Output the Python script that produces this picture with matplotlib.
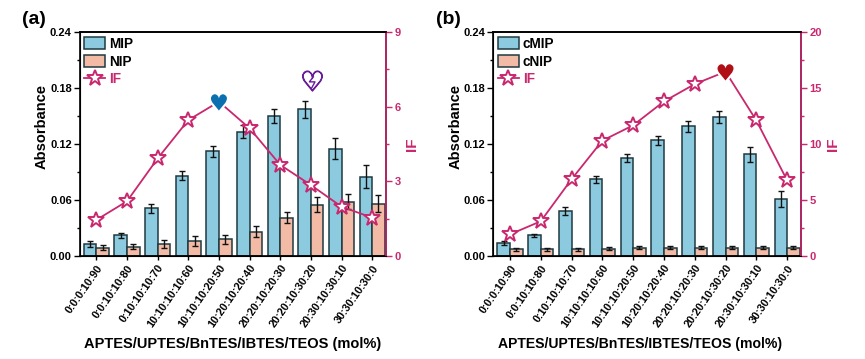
import numpy as np
import matplotlib
matplotlib.use('Agg')
import matplotlib.pyplot as plt
import matplotlib.patheffects as pe
from matplotlib.path import Path

plt.rcParams['font.family'] = ['Liberation Sans', 'DejaVu Sans']
plt.rcParams['font.weight'] = 'bold'
plt.rcParams['axes.labelweight'] = 'bold'

ratios = ['0:0:0:10:90', '0:0:10:10:80', '0:10:10:10:70', '10:10:10:10:60', '10:10:10:20:50',
          '10:20:10:20:40', '20:20:10:20:30', '20:20:10:30:20', '20:30:10:30:10', '30:30:10:30:0']

mip = [0.013, 0.022, 0.051, 0.086, 0.112, 0.133, 0.150, 0.157, 0.115, 0.085]
mip_err = [0.003, 0.003, 0.005, 0.005, 0.006, 0.007, 0.008, 0.009, 0.011, 0.012]
nip = [0.009, 0.010, 0.013, 0.016, 0.018, 0.026, 0.041, 0.055, 0.058, 0.056]
nip_err = [0.003, 0.003, 0.004, 0.005, 0.005, 0.006, 0.006, 0.008, 0.008, 0.009]
if_a = [1.45, 2.2, 3.92, 5.46, 6.2, 5.13, 3.66, 2.85, 1.98, 1.54]

cmip = [0.014, 0.022, 0.048, 0.082, 0.105, 0.124, 0.139, 0.149, 0.109, 0.061]
cmip_err = [0.002, 0.002, 0.004, 0.004, 0.004, 0.005, 0.006, 0.006, 0.008, 0.009]
cnip = [0.007, 0.007, 0.007, 0.008, 0.009, 0.009, 0.009, 0.009, 0.009, 0.009]
cnip_err = [0.002, 0.002, 0.002, 0.002, 0.002, 0.002, 0.002, 0.002, 0.002, 0.002]
if_b = [1.93, 3.1, 6.85, 10.3, 11.67, 13.8, 15.35, 16.46, 12.1, 6.75]

blue = '#8ccbdf'
salmon = '#f3bba5'
edge = '#1f3a40'
pink = '#c9286f'
W, H = 865, 359


def panel(box, a, a_err, b, b_err, iff, names, if_max, if_ticks, peak, tag, tag_x, xlab_x, xlab_size):
    left, right, top, bottom = box
    ax = fig.add_axes([left / W, 1 - bottom / H, (right - left) / W, (bottom - top) / H])
    x = np.arange(len(ratios))
    w = 0.41
    kw = dict(edgecolor=edge, linewidth=1.1, capsize=2, error_kw=dict(ecolor='#111111', elinewidth=1, capthick=1))
    ax.bar(x - w / 2, a, w, yerr=a_err, color=blue, label=names[0], **kw)
    ax.bar(x + w / 2, b, w, yerr=b_err, color=salmon, label=names[1], **kw)
    ax.set_xlim(-0.55, 9.45)
    ax.set_ylim(0, 0.24)
    ax.set_yticks([0, 0.06, 0.12, 0.18, 0.24])
    ax.set_yticklabels(['0.00', '0.06', '0.12', '0.18', '0.24'], fontsize=8)
    ax.set_yticks([0.03, 0.09, 0.15, 0.21], minor=True)
    ax.tick_params(axis='y', which='major', length=4, width=1, pad=1.5)
    ax.tick_params(axis='y', which='minor', length=2, width=1)
    ax.set_xticks(x)
    ax.set_xticklabels(ratios, rotation=55, ha='right', rotation_mode='anchor', fontsize=7.8)
    ax.tick_params(axis='x', length=3, width=1, pad=2)
    ax.set_ylabel('Absorbance', fontsize=10.5)
    ax.yaxis.set_label_coords(-0.1, 0.576)
    ax.set_xlabel('APTES/UPTES/BnTES/IBTES/TEOS (mol%)', fontsize=xlab_size)
    ax.xaxis.set_label_coords(xlab_x, -0.36)
    for s in ax.spines.values():
        s.set_linewidth(1.2)

    ax2 = ax.twinx()
    ax2.set_ylim(0, if_max)
    ax2.set_yticks(if_ticks)
    ax2.set_yticklabels([str(t) for t in if_ticks], fontsize=8, color=pink)
    step = if_ticks[1] - if_ticks[0]
    ax2.set_yticks(np.array(if_ticks[:-1]) + step / 2, minor=True)
    ax2.tick_params(axis='y', which='major', length=4, width=1, color=pink, pad=2)
    ax2.tick_params(axis='y', which='minor', length=2, width=1, color=pink)
    ax2.spines['right'].set_color(pink)
    ax2.spines['right'].set_linewidth(1.2)
    ax2.spines['top'].set_linewidth(1.2)
    ax2.set_ylabel('IF', fontsize=11, color=pink, labelpad=3)
    stars = [i for i in x if i != peak[0]]
    line, = ax2.plot(x, iff, color=pink, linewidth=1.3, marker='*', markersize=12,
                     markerfacecolor='white', markeredgecolor=pink, markeredgewidth=1.4,
                     markevery=stars, label='IF')
    ax2.annotate('\u2665', (peak[0], iff[peak[0]]), xytext=(0, -2), textcoords='offset points',
                 family='DejaVu Sans', fontsize=16, color=peak[1], ha='center', va='center',
                 path_effects=[pe.withStroke(linewidth=3, foreground='white')])

    h1, l1 = ax.get_legend_handles_labels()
    ax2.legend(h1 + [line], l1 + ['IF'], loc='upper left', frameon=False, fontsize=9.8,
               borderaxespad=0, borderpad=0.35, handlelength=1.55, handleheight=0.95, labelspacing=0.28,
               handletextpad=0.3, labelcolor=['black', 'black', pink])
    fig.text(tag_x / W, 1 - 19 / H, tag, fontsize=14, ha='center', va='center')
    return ax2


fig = plt.figure(figsize=(W / 100, H / 100), dpi=100)

ax_a = panel((79.5, 386, 32, 256), mip, mip_err, nip, nip_err, if_a, ['MIP', 'NIP'],
             9, [0, 3, 6, 9], (4, '#0b6fb0'), '(a)', 34, 0.5, 10.5)
panel((493, 801, 32, 256), cmip, cmip_err, cnip, cnip_err, if_b, ['cMIP', 'cNIP'],
      20, [0, 5, 10, 15, 20], (7, '#b01015'), '(b)', 448, 0.478, 10.1)

# broken heart above the 20:20:10:30:20 bars, crack as a small zigzag marker
ax_a.annotate('\u2661', (7.05, 7.0), xytext=(0, -1), textcoords='offset points', family='DejaVu Sans',
              fontsize=20, color='#6a1b9a', ha='center', va='center',
              path_effects=[pe.withStroke(linewidth=0.8, foreground='#6a1b9a')])
crack = Path([(0.2, 1), (-0.5, 0.1), (0.4, 0.1), (-0.2, -1)], closed=False)
ax_a.plot([7.05], [7.0], marker=crack, markersize=9, markerfacecolor='none',
          markeredgecolor='#6a1b9a', markeredgewidth=1, linestyle='none')

fig.savefig('out.png', dpi=100)
